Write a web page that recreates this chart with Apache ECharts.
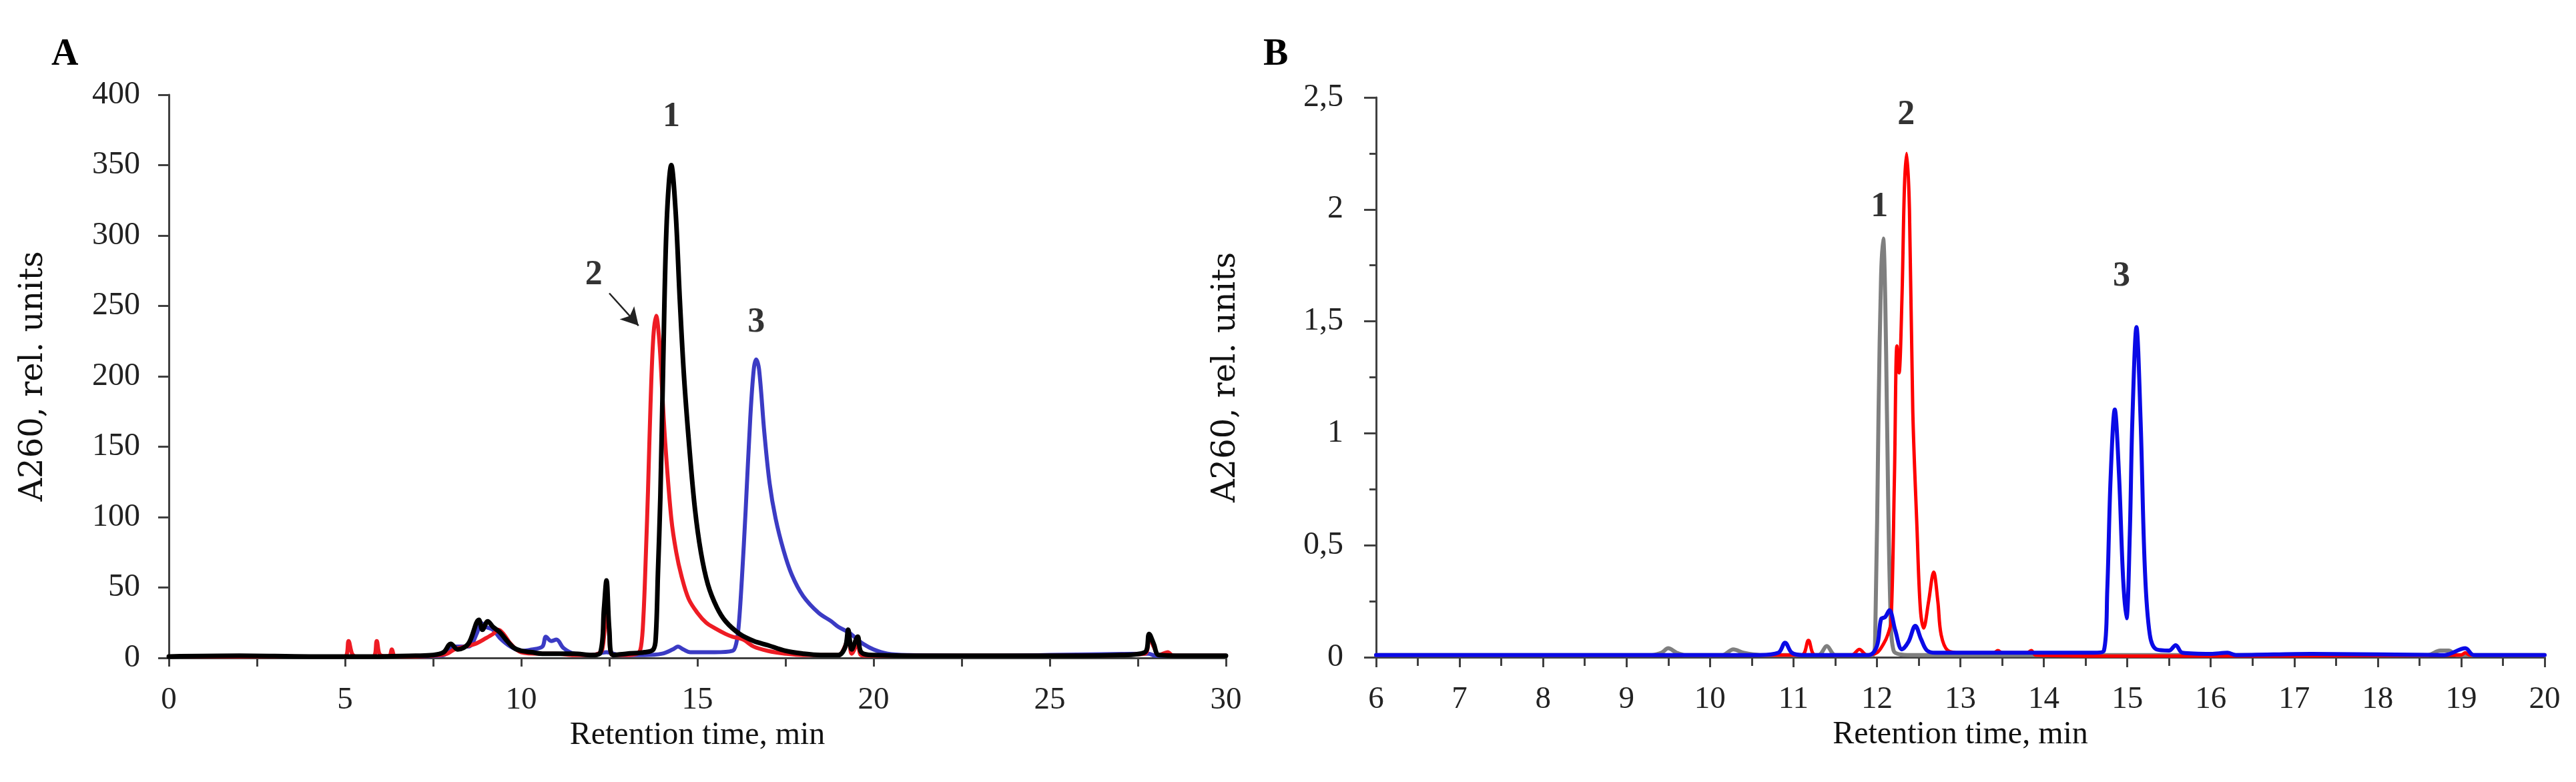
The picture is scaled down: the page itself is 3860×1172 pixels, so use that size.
<!DOCTYPE html>
<html><head><meta charset="utf-8">
<script src="https://cdn.jsdelivr.net/npm/echarts@6/dist/echarts.min.js"></script>
<style>html,body{margin:0;padding:0;background:#fff}#c{width:3860px;height:1172px}</style>
</head><body><div id="c"></div>
<script>
// ---------- Data (Panel A) ----------
const seriesNamesA = ['1', '2', '3'];
const sampleA1 = [[0,1],[2,1.5],[4,1],[6,1],[7,1.5],[7.5,2],[7.8,4],[8.0,10],[8.2,6],[8.5,10],[8.8,27],[8.9,20],[9.05,26],[9.2,22],[9.4,18],[9.6,12],[9.8,7],[10.0,5],[10.3,4],[10.6,3],[11,3],[11.5,3],[12,2],[12.25,4],[12.35,35],[12.42,55],[12.5,20],[12.6,2],[13,3],[13.5,4],[13.75,6],[13.82,15],[13.88,60],[13.95,115],[14.03,210],[14.13,310],[14.26,350],[14.38,318],[14.5,255],[14.62,200],[14.77,150],[14.93,106],[15.1,75],[15.3,52],[15.55,36],[15.8,26],[16.2,17],[16.6,12],[17.0,9],[17.5,5],[18,3],[18.5,2],[19.0,2],[19.2,8],[19.28,20],[19.38,6],[19.55,15],[19.65,4],[20,2],[22,1.5],[25,1.5],[27,2],[27.7,4],[27.82,17],[27.95,10],[28.1,2],[29,1.5],[30,1.5]];
const sampleA2 = [[0,1],[4,1],[5.0,1],[5.1,12],[5.2,3],[5.3,1],[5.8,1],[5.9,12],[6.0,2],[6.25,1],[6.33,6],[6.42,1],[7,1],[7.5,1.5],[7.9,3],[8.1,6],[8.4,8],[8.7,10],[9.0,14],[9.2,17],[9.35,20],[9.5,17],[9.7,10],[10,4],[10.5,3],[11,3],[11.5,2],[12,2],[12.3,6],[12.42,50],[12.5,15],[12.6,2],[13.0,2],[13.3,3],[13.4,8],[13.47,30],[13.54,75],[13.6,120],[13.67,180],[13.75,228],[13.83,243],[13.92,225],[14.0,190],[14.09,152],[14.26,99],[14.4,75],[14.55,58],[14.75,42],[15.0,32],[15.25,25],[15.5,21],[15.8,17],[16.0,15],[16.3,13],[16.6,8],[17.0,5],[17.5,3],[18.0,2],[19.0,2],[19.28,12],[19.38,3],[19.55,10],[19.65,2],[20,1.5],[25,1.5],[27.7,3],[27.82,15],[27.95,8],[28.1,2],[28.35,4],[28.5,1.5],[30,1.5]];
const sampleA3 = [[0,1],[5,1],[7,1],[7.8,2],[8.1,8],[8.5,8],[8.75,18],[8.85,25],[9.0,22],[9.2,20],[9.4,14],[9.7,8],[10.0,5],[10.3,6],[10.6,8],[10.7,15],[10.85,12],[11.0,13],[11.2,7],[11.5,3],[12.0,2],[12.42,4],[12.8,2],[13.5,2],[14.0,3],[14.3,6],[14.45,8],[14.6,6],[14.8,4],[15.5,4],[16.0,5],[16.1,10],[16.17,22],[16.26,55],[16.37,105],[16.5,170],[16.6,205],[16.67,212],[16.75,205],[16.9,160],[17.05,124],[17.22,99],[17.45,76],[17.68,59],[18.0,44],[18.44,32],[18.8,26],[19.0,22],[19.3,18],[19.5,14],[19.7,10],[20.0,6],[20.4,3],[21,2],[23,1.5],[27.8,3],[28,1.5],[30,1.5]];
const peakLabelsA = [['1',14.26,384],['2',12.06,272],['3',16.67,238]];
const arrowA = [[12.5,259],[13.33,236]];
const xTicksA = [0,5,10,15,20,25,30];
const yTicksA = [0,50,100,150,200,250,300,350,400];

// ---------- Data (Panel B) ----------
const sampleB1 = [[6,0.01],[9.3,0.01],[9.42,0.02],[9.5,0.04],[9.6,0.02],[9.7,0.01],[10.15,0.01],[10.28,0.035],[10.4,0.02],[10.6,0.01],[11.3,0.01],[11.4,0.05],[11.5,0.01],[11.95,0.01],[11.98,0.1],[12.02,1.1],[12.05,1.7],[12.075,1.87],[12.1,1.6],[12.12,1.1],[12.16,0.24],[12.2,0.03],[12.4,0.01],[18.6,0.01],[18.75,0.03],[18.85,0.03],[18.95,0.01],[20,0.01]];
const sampleB2 = [[6,0.01],[10.5,0.01],[11.1,0.01],[11.18,0.075],[11.26,0.01],[11.7,0.01],[11.79,0.035],[11.88,0.01],[12.0,0.02],[12.08,0.06],[12.13,0.1],[12.17,0.16],[12.21,0.8],[12.24,1.39],[12.265,1.27],[12.3,1.6],[12.33,2.1],[12.356,2.25],[12.39,2.0],[12.43,1.1],[12.48,0.58],[12.52,0.22],[12.56,0.13],[12.62,0.25],[12.68,0.38],[12.73,0.25],[12.77,0.1],[12.85,0.03],[13,0.02],[13.4,0.02],[13.45,0.03],[13.5,0.02],[13.8,0.02],[13.85,0.03],[13.9,0.01],[15,0.005],[19,0.01],[19.05,0.02],[19.1,0.01],[20,0.01]];
const sampleB3 = [[6,0.01],[10.6,0.01],[10.82,0.02],[10.9,0.065],[10.98,0.02],[11.1,0.01],[11.9,0.01],[12.0,0.05],[12.05,0.17],[12.1,0.18],[12.15,0.21],[12.22,0.12],[12.3,0.035],[12.38,0.07],[12.46,0.14],[12.53,0.08],[12.6,0.03],[12.7,0.02],[14.6,0.02],[14.72,0.03],[14.76,0.3],[14.8,0.8],[14.85,1.106],[14.9,0.82],[14.95,0.35],[14.99,0.174],[15.03,0.55],[15.06,1.05],[15.11,1.474],[15.16,1.05],[15.21,0.4],[15.27,0.1],[15.35,0.035],[15.5,0.03],[15.58,0.054],[15.66,0.02],[16,0.015],[16.2,0.02],[16.3,0.01],[17.2,0.015],[18.8,0.01],[19.05,0.04],[19.15,0.01],[20,0.01]];
const peakLabelsB = [['1',12.03,2.01],['2',12.35,2.42],['3',14.93,1.70]];

// ---------- Chart ----------
const FONT = '"Liberation Serif","Times New Roman",serif';
const TITLEFONT = '"DejaVu Serif","Liberation Serif",serif';
const axisLineStyle = {color:'#404040', width:3};
const chart = echarts.init(document.getElementById('c'), null, {renderer:'canvas'});

function lineSeries(data, color, width, xi, yi, z) {
  return {type:'line', data:data, xAxisIndex:xi, yAxisIndex:yi, showSymbol:false, symbol:'none',
    smooth:0.35, z:z, lineStyle:{color:color, width:width, join:'round', cap:'round'}, animation:false};
}
function labelSeries(labels, xi, yi) {
  return {type:'scatter', xAxisIndex:xi, yAxisIndex:yi, symbolSize:0, z:10, animation:false,
    data: labels.map(l => ({value:[l[1], l[2]], name:l[0]})),
    label:{show:true, position:'inside', formatter:p=>p.name, fontFamily:FONT, fontWeight:'bold', fontSize:52, color:'#000'}};
}

const option = {
  backgroundColor:'#fff',
  animation:false,
  title:[
    {text:'A', left:72, top:50, textStyle:{fontFamily:FONT, fontWeight:'bold', fontSize:56, color:'#000'}},
    {text:'B', left:1888, top:50, textStyle:{fontFamily:FONT, fontWeight:'bold', fontSize:56, color:'#000'}}
  ],
  grid:[
    {left:253, right:3860-1837, top:142, bottom:1172-986, containLabel:false},
    {left:2062, right:3860-3813, top:146, bottom:1172-985, containLabel:false}
  ],
  xAxis:[
    {type:'value', gridIndex:0, min:0, max:30, interval:2.5,
     name:'Retention time, min', nameLocation:'middle', nameGap:90,
     nameTextStyle:{fontFamily:FONT, fontSize:48, color:'#111'},
     axisLine:{lineStyle:axisLineStyle}, axisTick:{show:true, length:13, lineStyle:axisLineStyle},
     axisLabel:{fontFamily:FONT, fontSize:47, color:'#222', margin:40, formatter:v=> xTicksA.indexOf(v)>=0 ? String(v) : ''},
     splitLine:{show:false}},
    {type:'value', gridIndex:1, min:6, max:20, interval:1,
     name:'Retention time, min', nameLocation:'middle', nameGap:90,
     nameTextStyle:{fontFamily:FONT, fontSize:48, color:'#111'},
     axisLine:{lineStyle:axisLineStyle}, axisTick:{show:true, length:15, lineStyle:axisLineStyle},
     minorTick:{show:true, splitNumber:2, length:13, lineStyle:{color:'#404040', width:3}},
     axisLabel:{fontFamily:FONT, fontSize:47, color:'#222', margin:40},
     splitLine:{show:false}}
  ],
  yAxis:[
    {type:'value', gridIndex:0, min:0, max:400, interval:50,
     name:'A260, rel. units', nameLocation:'middle', nameGap:178, nameRotate:90,
     nameTextStyle:{fontFamily:TITLEFONT, fontSize:48, color:'#111'},
     axisLine:{show:true, lineStyle:axisLineStyle}, axisTick:{show:true, length:16, lineStyle:axisLineStyle},
     axisLabel:{fontFamily:FONT, fontSize:48, color:'#222', margin:43, formatter:v=> yTicksA.indexOf(v)>=0 ? String(v) : ''},
     splitLine:{show:false}},
    {type:'value', gridIndex:1, min:0, max:2.5, interval:0.5,
     name:'A260, rel. units', nameLocation:'middle', nameGap:200, nameRotate:90,
     nameTextStyle:{fontFamily:TITLEFONT, fontSize:48, color:'#111'},
     axisLine:{show:true, lineStyle:axisLineStyle}, axisTick:{show:true, length:18, lineStyle:axisLineStyle},
     minorTick:{show:true, splitNumber:2, length:10, lineStyle:{color:'#404040', width:3}},
     axisLabel:{fontFamily:FONT, fontSize:48, color:'#222', margin:49, formatter:v=> String(v).replace('.', ',')},
     splitLine:{show:false}}
  ],
  series:[
    lineSeries(sampleA3, '#3b3bc4', 6, 0, 0, 2),
    lineSeries(sampleA2, '#ee1c24', 6, 0, 0, 3),
    Object.assign(lineSeries(sampleA1, '#000000', 7, 0, 0, 4), {
      markLine:{silent:true, symbol:['none','arrow'], symbolSize:[22,26], animation:false,
        lineStyle:{color:'#222', width:2.5, type:'solid'}, label:{show:false},
        data:[[{coord:arrowA[0]},{coord:arrowA[1]}]]}
    }),
    labelSeries(peakLabelsA, 0, 0),
    lineSeries(sampleB1, '#7f7f7f', 6, 1, 1, 2),
    lineSeries(sampleB2, '#ff0000', 5, 1, 1, 3),
    lineSeries(sampleB3, '#0a0ae6', 6, 1, 1, 4),
    labelSeries(peakLabelsB, 1, 1)
  ]
};
chart.setOption(option);
</script></body></html>
